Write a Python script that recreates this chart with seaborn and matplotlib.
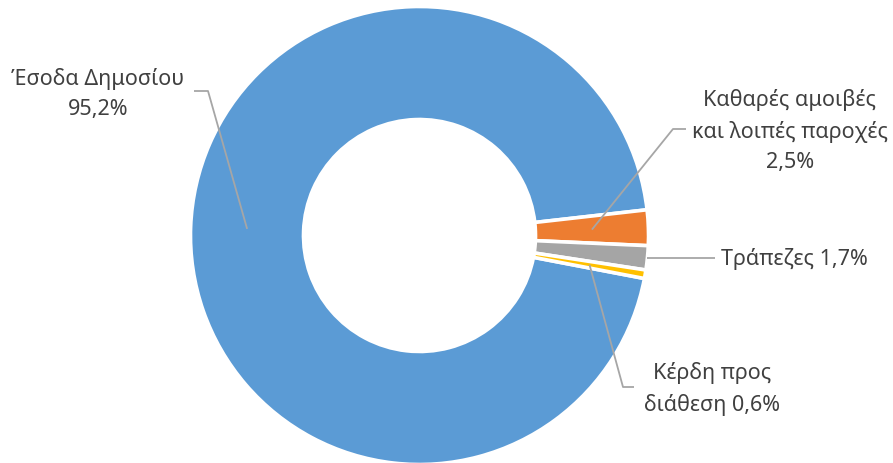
import numpy as np
import matplotlib
matplotlib.use("Agg")
import matplotlib.pyplot as plt
import seaborn as sns

# Revenue split shown as a donut
categories = ["Έσοδα Δημοσίου", "Καθαρές αμοιβές\nκαι λοιπές παροχές", "Τράπεζες", "Κέρδη προς\nδιάθεση"]
shares = [95.2, 2.5, 1.7, 0.6]
value_labels = ["95,2%", "2,5%", "1,7%", "0,6%"]
colors = ["#5B9BD5", "#ED7D31", "#A5A5A5", "#FFC000"]

sns.set_theme(style="white")
plt.rcParams["font.family"] = ["Noto Sans", "DejaVu Sans"]

W, H = 893, 464
fig = plt.figure(figsize=(W / 100, H / 100), dpi=100)
ax = fig.add_axes([0, 0, 1, 1])

cx, cy = 419.5, H - 236.5
r_out, r_in = 229.0, 116.0
start = -10.83

wedges, _ = ax.pie(
    shares, colors=colors, startangle=start, counterclock=False,
    center=(cx, cy), radius=r_out,
    wedgeprops=dict(width=r_out - r_in, edgecolor="white", linewidth=2.6),
)
ax.set_xlim(0, W)
ax.set_ylim(0, H)
ax.set_aspect("equal")
ax.axis("off")

def px(x, y):
    return x, H - y

def mid_point(w, frac):
    ang = np.deg2rad((w.theta1 + w.theta2) / 2)
    r = r_in + (r_out - r_in) * frac
    return cx + r * np.cos(ang), cy + r * np.sin(ang)

text_kw = dict(color="#404040", fontsize=15.5, ha="center", va="center", linespacing=1.6)
line_kw = dict(color="#A6A6A6", lw=1.3, solid_capstyle="butt")

def leader(start_xy, *bends):
    xs = [start_xy[0]] + [px(*b)[0] for b in bends]
    ys = [start_xy[1]] + [px(*b)[1] for b in bends]
    ax.plot(xs, ys, **line_kw)

# Έσοδα Δημοσίου
leader(mid_point(wedges[0], 0.5), (208, 92), (194, 92))
ax.text(*px(98, 94), f"{categories[0]}\n{value_labels[0]}", **text_kw)

# Καθαρές αμοιβές
leader(mid_point(wedges[1], 0.5), (673, 130), (686, 130))
ax.text(*px(790, 131), f"{categories[1]}\n{value_labels[1]}", **text_kw)

# Τράπεζες
x2, y2 = mid_point(wedges[2], 1.0)
ax.plot([x2, 715], [y2, y2], **line_kw)
ax.text(721, y2, f"{categories[2]} {value_labels[2]}", **{**text_kw, "ha": "left"})

# Κέρδη προς διάθεση
leader(mid_point(wedges[3], 0.5), (623, 388), (634, 388))
ax.text(*px(712, 389), f"{categories[3]} {value_labels[3]}", **text_kw)

fig.savefig("out.png", dpi=100, facecolor="white")
